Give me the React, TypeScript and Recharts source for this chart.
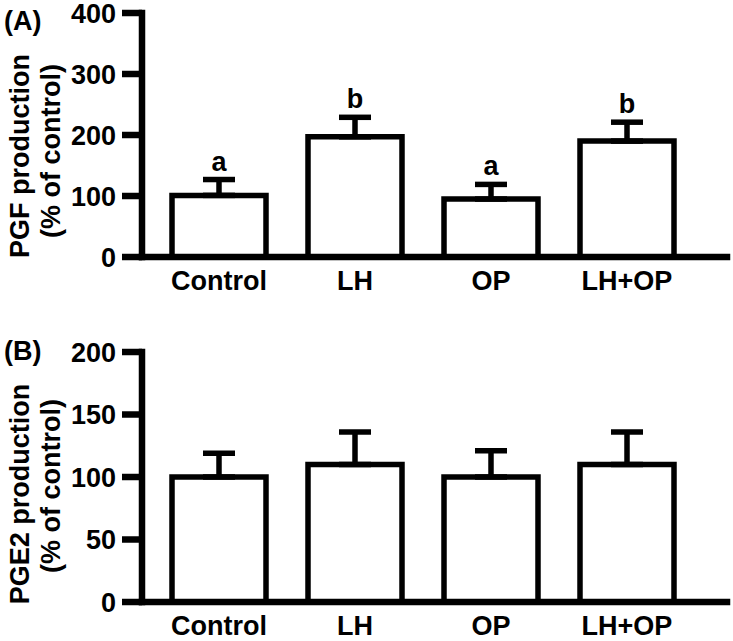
import React from 'react';
import { BarChart, Bar, XAxis, YAxis, ErrorBar, LabelList } from 'recharts';

// Groups and values (% of control, mean + SEM)
const groups = ['Control', 'LH', 'OP', 'LH+OP'];
const pgfMean = [101, 197, 95, 190];
const pgfSem = [26, 32, 24, 31];
const pgfLetters = ['a', 'b', 'a', 'b'];
const pgfTicks = [0, 100, 200, 300, 400];

const pge2Mean = [100, 110, 100, 110];
const pge2Sem = [19, 26, 21, 26];
const pge2Ticks = [0, 50, 100, 150, 200];

const FONT = '"Liberation Sans", Arial, sans-serif';
const BLACK = '#000';
const AXIS_W = 6.5;
const BAR_W = 5.5;

const textStyle = { fill: BLACK, fontSize: 27, fontWeight: 700, fontFamily: FONT };

interface PanelProps {
  tag: string;
  title: string;
  means: number[];
  sems: number[];
  letters?: string[];
  ticks: number[];
  height: number;
  top: number;
  axisHeight: number;
  tagY: number;
  labelY: [number, number];
}

const Panel: React.FC<PanelProps> = ({ tag, title, means, sems, letters, ticks, height, top, axisHeight, tagY, labelY }) => {
  const data = groups.map((g, i) => ({
    name: g,
    value: means[i],
    err: [0, sems[i]],
    sig: letters ? letters[i] : ''
  }));

  // two-line rotated axis title plus the panel tag
  const renderYLabel = () => (
    <g>
      <text x={4} y={tagY} style={textStyle} dominantBaseline="central">{tag}</text>
      <text
        x={20}
        y={labelY[0]}
        transform={`rotate(-90, 20, ${labelY[0]})`}
        textAnchor="middle"
        dominantBaseline="central"
        style={textStyle}
      >
        {title}
      </text>
      <text
        x={51}
        y={labelY[1]}
        transform={`rotate(-90, 51, ${labelY[1]})`}
        textAnchor="middle"
        dominantBaseline="central"
        style={textStyle}
      >
        (% of control)
      </text>
    </g>
  );

  // significance letter sits just above the error bar cap
  const renderLetter = (props: any) => {
    const { x, y, width, height: h, index, value } = props;
    if (!value) return null;
    const d = data[index];
    const capY = y - d.err[1] * (h / d.value);
    return (
      <text x={x + width / 2} y={capY - 9} textAnchor="middle" style={textStyle}>
        {value}
      </text>
    );
  };

  return (
    <BarChart
      width={733}
      height={height}
      data={data}
      margin={{ top, right: 6, left: 0, bottom: 0 }}
      barSize={94}
      style={{ overflow: 'visible' }}
    >
      <XAxis
        dataKey="name"
        height={axisHeight}
        padding={{ left: 9, right: 32 }}
        axisLine={{ stroke: BLACK, strokeWidth: AXIS_W, strokeLinecap: 'square' }}
        tickLine={false}
        tickSize={0}
        tickMargin={14}
        tick={textStyle}
        interval={0}
      />
      <YAxis
        width={142}
        domain={[ticks[0], ticks[ticks.length - 1]]}
        ticks={ticks}
        interval={0}
        axisLine={{ stroke: BLACK, strokeWidth: AXIS_W, strokeLinecap: 'square' }}
        tickLine={{ stroke: BLACK, strokeWidth: AXIS_W }}
        tickSize={20}
        tickMargin={6}
        tick={textStyle}
        label={{ content: renderYLabel }}
      />
      <Bar dataKey="value" fill="#fff" stroke={BLACK} strokeWidth={BAR_W} isAnimationActive={false}>
        <ErrorBar dataKey="err" direction="y" width={16} stroke={BLACK} strokeWidth={BAR_W} />
        {letters && <LabelList dataKey="sig" content={renderLetter} />}
      </Bar>
    </BarChart>
  );
};

export default function App() {
  return (
    <div style={{ position: 'absolute', left: 0, top: 0, width: 733, height: 641, background: '#fff' }}>
      <div style={{ position: 'absolute', left: 0, top: 0 }}>
        <Panel
          tag="(A)"
          title="PGF production"
          means={pgfMean}
          sems={pgfSem}
          letters={pgfLetters}
          ticks={pgfTicks}
          height={320}
          top={13}
          axisHeight={63}
          tagY={21}
          labelY={[156, 151]}
        />
      </div>
      <div style={{ position: 'absolute', left: 0, top: 320 }}>
        <Panel
          tag="(B)"
          title="PGE2 production"
          means={pge2Mean}
          sems={pge2Sem}
          ticks={pge2Ticks}
          height={321}
          top={32}
          axisHeight={39}
          tagY={31}
          labelY={[174, 166]}
        />
      </div>
    </div>
  );
}
